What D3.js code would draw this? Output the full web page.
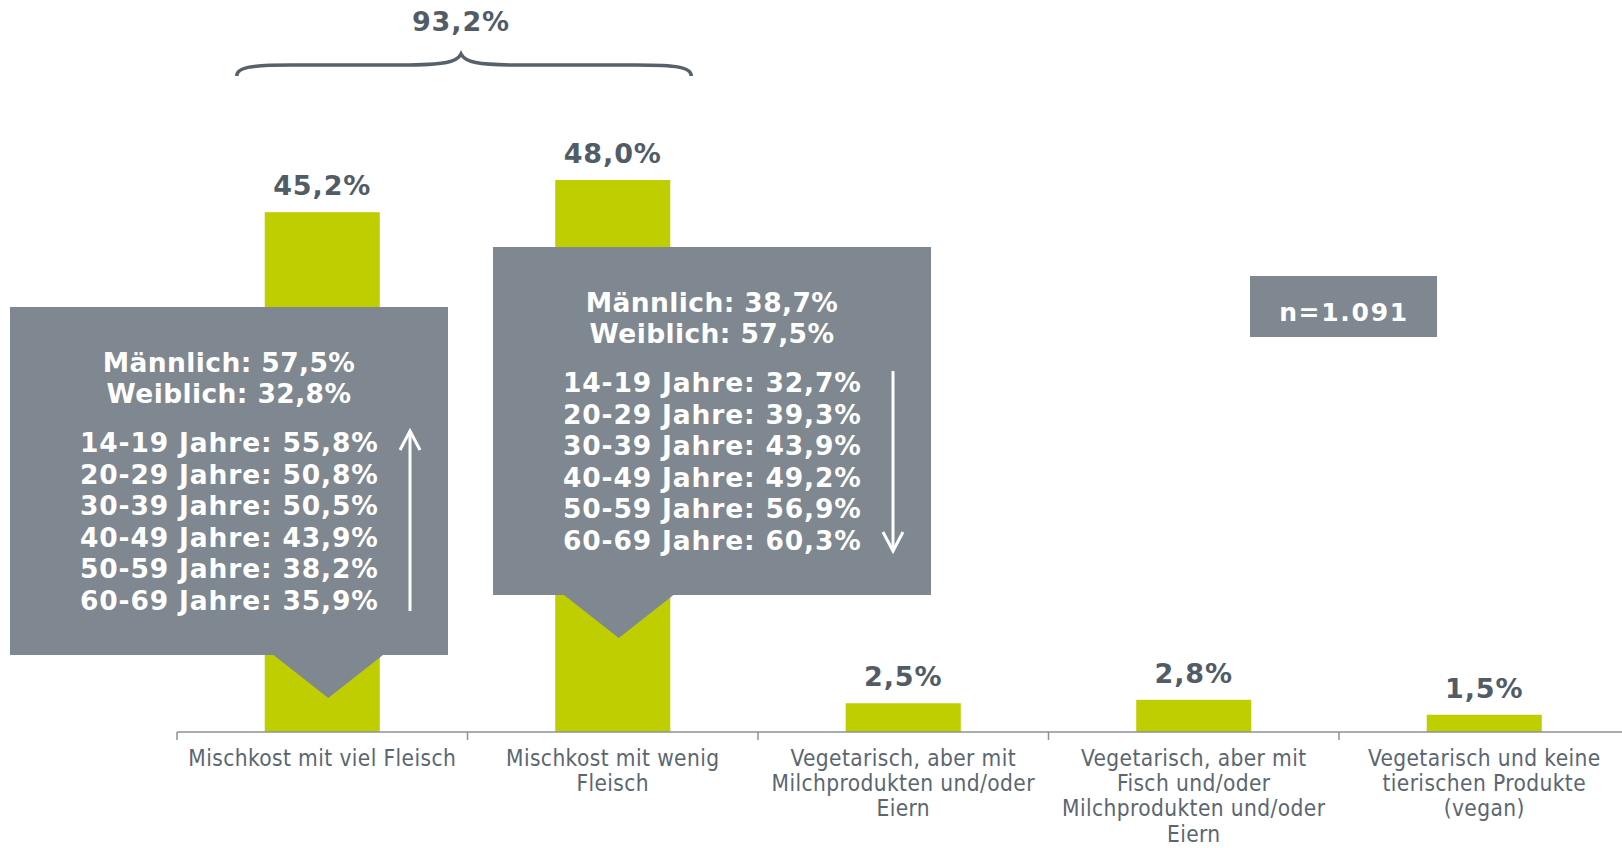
<!DOCTYPE html>
<html>
<head>
<meta charset="utf-8">
<script src="https://cdn.jsdelivr.net/npm/d3@7"></script>
<style>
  body { margin: 0; background: #fff; }
  svg { display: block; }
</style>
</head>
<body>
<script>
var w = 1622;
var h = 848;

// data
var categories = ["viel", "wenig", "milch", "fisch", "vegan"];
var catLabels = [
  ["Mischkost mit viel Fleisch"],
  ["Mischkost mit wenig", "Fleisch"],
  ["Vegetarisch, aber mit", "Milchprodukten und/oder", "Eiern"],
  ["Vegetarisch, aber mit", "Fisch und/oder", "Milchprodukten und/oder", "Eiern"],
  ["Vegetarisch und keine", "tierischen Produkte", "(vegan)"]
];
var shares = [45.2, 48.0, 2.5, 2.8, 1.5];
var totalMeat = 93.2;
var sampleLabel = "n=1.091";

var ageGroups = ["14-19 Jahre", "20-29 Jahre", "30-39 Jahre", "40-49 Jahre", "50-59 Jahre", "60-69 Jahre"];
var ageViel = ["55,8%", "50,8%", "50,5%", "43,9%", "38,2%", "35,9%"];
var ageWenig = ["32,7%", "39,3%", "43,9%", "49,2%", "56,9%", "60,3%"];
var maleShare = ["57,5%", "38,7%"];
var femaleShare = ["32,8%", "57,5%"];

var barColor = "#bfce00";
var boxColor = "#7f8790";
var darkText = "#515c67";
var boldFont = "DejaVu Sans, Verdana, sans-serif";

var fmt = d3.formatLocale({decimal: ",", thousands: ".", grouping: [3], currency: ["", "€"]}).format(".1f");

var svg = d3.select("body")
            .append("svg")
            .attr("width", w)
            .attr("height", h);

var x = d3.scaleBand()                  // one band per category, ticks at the band edges
          .domain(categories)
          .range([177, 1629.5]);

var xBar = d3.scaleBand()
             .domain(categories)
             .range([177, 1629.5])
             .paddingInner(0.604)
             .paddingOuter(0.302);

var y = d3.scaleLinear()
          .domain([0, 60])
          .range([732, 42]);

// bars
svg.selectAll("rect.bar")
   .data(shares)
   .enter()
   .append("rect")
   .attr("class", "bar")
   .attr("x", function(d, i){ return xBar(categories[i]); })
   .attr("y", function(d){ return y(d); })
   .attr("width", xBar.bandwidth())
   .attr("height", function(d){ return y(0) - y(d); })
   .attr("fill", barColor);

// value labels
svg.selectAll("text.val")
   .data(shares)
   .enter()
   .append("text")
   .attr("class", "val")
   .attr("x", function(d, i){ return xBar(categories[i]) + xBar.bandwidth()/2; })
   .attr("y", function(d){ return y(d) - 17; })
   .attr("text-anchor", "middle")
   .attr("font-family", boldFont)
   .attr("font-weight", "bold")
   .attr("font-size", 27)
   .attr("letter-spacing", 0.9)
   .attr("fill", darkText)
   .text(function(d){ return fmt(d) + "%"; });

// axis
var axis = svg.append("g").attr("class", "axis");
axis.append("line")
    .attr("x1", x.range()[0]).attr("x2", x.range()[1])
    .attr("y1", y(0)).attr("y2", y(0))
    .attr("stroke", "#8d9297").attr("stroke-width", 1.5);
axis.selectAll("line.tick")
    .data(categories)
    .enter()
    .append("line")
    .attr("class", "tick")
    .attr("x1", function(d){ return x(d); })
    .attr("x2", function(d){ return x(d); })
    .attr("y1", y(0)).attr("y2", y(0) + 8)
    .attr("stroke", "#8d9297").attr("stroke-width", 1.5);

var labels = axis.selectAll("text.cat")
    .data(catLabels)
    .enter()
    .append("text")
    .attr("class", "cat")
    .attr("text-anchor", "middle")
    .attr("font-family", "DejaVu Sans Condensed, DejaVu Sans, sans-serif")
    .attr("font-size", 22.5)
    .attr("letter-spacing", 0.4)
    .attr("fill", "#5b6670");
labels.selectAll("tspan")
    .data(function(d, i){ return d.map(function(t){ return {t: t, i: i}; }); })
    .enter()
    .append("tspan")
    .attr("x", function(d){ return x(categories[d.i]) + x.bandwidth()/2; })
    .attr("y", function(d, j){ return 766 + j*25.2; })
    .text(function(d){ return d.t; });

// brace over the two mixed-diet bars
var bl = xBar(categories[0]) - 28;
var br = xBar(categories[1]) + xBar.bandwidth() + 21;
var bm = (bl + br)/2 - 3;
var by = 65;
svg.append("path")
   .attr("d", "M" + bl + "," + (by + 11) +
              " C" + bl + "," + (by + 2) + " " + (bl + 15) + "," + by + " " + (bl + 55) + "," + by +
              " L" + (bm - 60) + "," + by +
              " C" + (bm - 15) + "," + by + " " + (bm - 4) + "," + (by - 3) + " " + bm + "," + (by - 11) +
              " C" + (bm + 4) + "," + (by - 3) + " " + (bm + 15) + "," + by + " " + (bm + 60) + "," + by +
              " L" + (br - 55) + "," + by +
              " C" + (br - 15) + "," + by + " " + br + "," + (by + 2) + " " + br + "," + (by + 11))
   .attr("fill", "none")
   .attr("stroke", "#56616b")
   .attr("stroke-width", 3.5);

svg.append("text")
   .attr("x", bm)
   .attr("y", 31)
   .attr("text-anchor", "middle")
   .attr("font-family", boldFont)
   .attr("font-weight", "bold")
   .attr("font-size", 27)
   .attr("letter-spacing", 0.9)
   .attr("fill", darkText)
   .text(fmt(totalMeat) + "%");

// callout boxes
var boxes = [
  {cat: 0, left: 10,  top: 307, ages: ageViel,  up: true},
  {cat: 1, left: 493, top: 247, ages: ageWenig, up: false}
];
var boxW = 438, boxH = 348;

boxes.forEach(function(b, k){
  var g = svg.append("g");
  var cx = xBar(categories[b.cat]) + xBar.bandwidth()/2 + 6;
  var bottom = b.top + boxH;
  g.append("rect")
   .attr("x", b.left).attr("y", b.top)
   .attr("width", boxW).attr("height", boxH)
   .attr("fill", boxColor);
  g.append("path")
   .attr("d", "M" + (cx - 56) + "," + (bottom - 1) + " L" + (cx + 56) + "," + (bottom - 1) + " L" + cx + "," + (bottom + 43) + " Z")
   .attr("fill", boxColor);

  var txt = g.append("g")
             .attr("font-family", boldFont)
             .attr("font-weight", "bold")
             .attr("font-size", 26.5)
             .attr("letter-spacing", 0.4)
             .attr("fill", "#fff");
  txt.append("text")
     .attr("x", b.left + boxW/2).attr("y", b.top + 65)
     .attr("text-anchor", "middle")
     .text("Männlich: " + maleShare[k]);
  txt.append("text")
     .attr("x", b.left + boxW/2).attr("y", b.top + 96)
     .attr("text-anchor", "middle")
     .text("Weiblich: " + femaleShare[k]);
  txt.selectAll("text.age")
     .data(ageGroups)
     .enter()
     .append("text")
     .attr("class", "age")
     .attr("x", b.left + 70)
     .attr("y", function(d, i){ return b.top + 145 + i*31.6; })
     .attr("letter-spacing", 0.85)
     .text(function(d, i){ return d + ": " + b.ages[i]; });

  // trend arrow
  var ax = b.left + 400;
  var y1 = b.top + 124, y2 = b.top + 304;
  var tip = b.up ? y1 : y2;
  var dir = b.up ? 1 : -1;
  g.append("line")
   .attr("x1", ax).attr("x2", ax)
   .attr("y1", y1).attr("y2", y2)
   .attr("stroke", "#fff").attr("stroke-width", 3);
  g.append("path")
   .attr("d", "M" + (ax - 10) + "," + (tip + dir*19) + " L" + ax + "," + tip + " L" + (ax + 10) + "," + (tip + dir*19))
   .attr("fill", "none")
   .attr("stroke", "#fff").attr("stroke-width", 3);
});

// sample size
svg.append("rect")
   .attr("x", 1250).attr("y", 276)
   .attr("width", 187).attr("height", 61)
   .attr("fill", boxColor);
svg.append("text")
   .attr("x", 1344).attr("y", 321)
   .attr("text-anchor", "middle")
   .attr("font-family", boldFont)
   .attr("font-weight", "bold")
   .attr("font-size", 25)
   .attr("letter-spacing", 1.7)
   .attr("fill", "#fff")
   .text(sampleLabel);
</script>
</body>
</html>
